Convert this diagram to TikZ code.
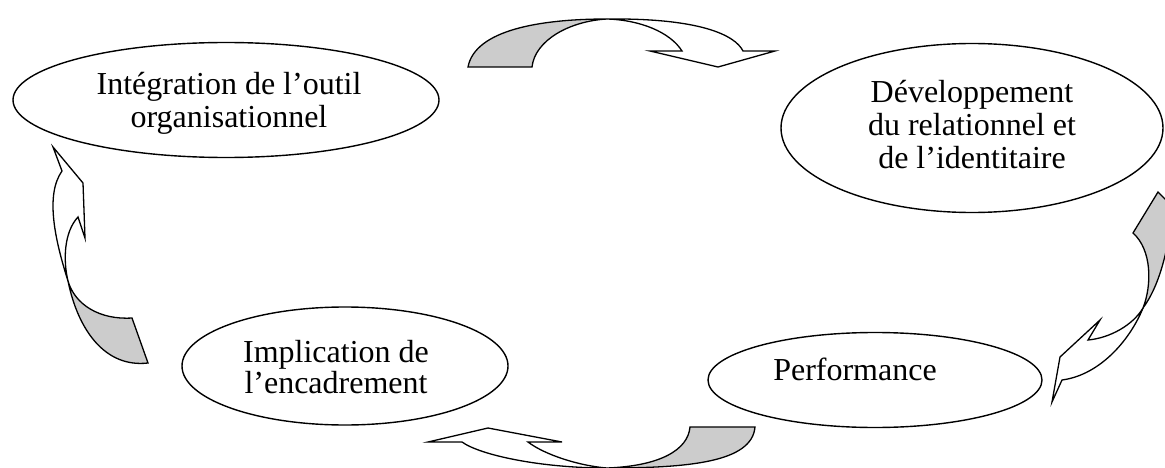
\documentclass[tikz,border=0pt]{standalone}
\usepackage{fontspec}
\setmainfont{Liberation Serif}
\usetikzlibrary{shapes.geometric}
\definecolor{shade}{RGB}{204,204,204}
\begin{document}
\begin{tikzpicture}[x=1pt,y=-1pt,
  bubble/.style={draw, line width=1.4pt, ellipse, inner sep=0pt},
  lbl/.style={anchor=base, inner sep=0pt, font=\fontsize{32}{33}\selectfont},
  back/.style={draw, line width=1.3pt, fill=shade, line join=miter},
  front/.style={draw, line width=1.3pt, fill=white, line join=miter}]
\useasboundingbox (0,0) rectangle (1165,468);

% ellipses
\node[bubble, minimum width=426pt, minimum height=115pt] (e1) at (226,100) {};
\node[bubble, minimum width=382pt, minimum height=169pt] (e2) at (972,128) {};
\node[bubble, minimum width=326pt, minimum height=118pt] (e3) at (345,366) {};
\node[bubble, minimum width=334pt, minimum height=95pt] (e4) at (875,380) {};

% texts
\node[lbl] (t1a) at (229,95) {Intégration de l’outil};
\node[lbl] (t1b) at (229,128) {organisationnel};
\node[lbl] (t2a) at (972,103) {Développement};
\node[lbl] (t2b) at (972,136) {du relationnel et};
\node[lbl] (t2c) at (972,168) {de l’identitaire};
\node[lbl] (t3a) at (336,362) {Implication de};
\node[lbl] (t3b) at (336,393) {l’encadrement};
\node[lbl] (t4a) at (855,380) {Performance};

% top arrow (towards e2)
\path[back] (468,67) .. controls (475,30) and (540,19) .. (607,19)
  .. controls (570,21) and (535,40) .. (532,67) -- cycle;
\path[front] (607,19) .. controls (700,18) and (735,35) .. (743,51)
  -- (775,51) -- (718,67) -- (650,51) -- (682,51)
  .. controls (670,32) and (640,20) .. (607,19) -- cycle;

% right arrow (towards e4)
\path[back] (1133,233) -- (1158,192) -- (1172,206)
  .. controls (1170,245) and (1160,285) .. (1143,308)
  .. controls (1152,285) and (1152,250) .. (1133,233) -- cycle;
\path[front] (1143,308) .. controls (1130,340) and (1100,375) .. (1062,380)
  -- (1052,402) -- (1060,357) -- (1100,320) -- (1088,340)
  .. controls (1110,338) and (1133,325) .. (1143,308) -- cycle;

% bottom arrow (towards e3)
\path[back] (755,427) .. controls (752,462) and (690,468) .. (607,468)
  .. controls (660,466) and (688,450) .. (690,427) -- cycle;
\path[front] (607,468) .. controls (540,468) and (480,455) .. (462,442)
  -- (428,442) -- (488,428) -- (562,442) -- (528,442)
  .. controls (545,455) and (580,466) .. (607,468) -- cycle;

% left arrow (towards e1)
\path[back] (68,281) .. controls (78,330) and (105,368) .. (148,363)
  -- (132,318) .. controls (100,320) and (75,305) .. (68,281) -- cycle;
\path[front] (68,281) .. controls (55,240) and (45,195) .. (62,171)
  -- (53,147) -- (83,183) -- (85,238) -- (78,217)
  .. controls (64,232) and (63,260) .. (68,281) -- cycle;
\end{tikzpicture}
\end{document}
